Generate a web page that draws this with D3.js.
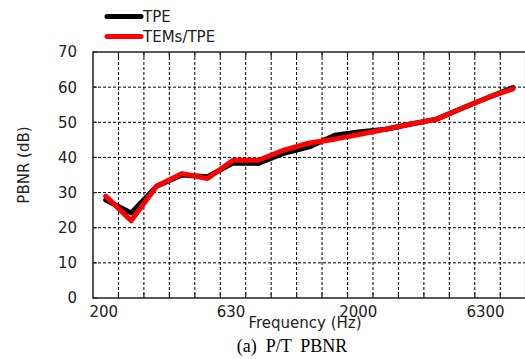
<!DOCTYPE html>
<html><head><meta charset="utf-8">
<script src="https://cdn.jsdelivr.net/npm/d3@7"></script>
<style>body{margin:0;background:#fff}svg{display:block}</style>
</head><body>
<svg id="c" width="525" height="359"></svg>
<script>
const bands = ["200","250","315","400","500","630","800","1000","1250","1600","2000","2500","3150","4000","5000","6300","8000"];
const tickLabels = ["200","630","2000","6300"];
const tpe  = [27.9,24.2,31.8,35.0,34.5,38.4,38.3,41.2,43.0,46.3,47.3,48.0,49.5,50.9,54.0,57.0,59.9];
const tems = [29.0,22.0,31.8,35.4,34.0,39.2,39.2,42.1,44.1,45.2,46.6,48.0,49.5,50.9,54.0,57.0,59.5];
const yTicks = [0,10,20,30,40,50,60,70];
const seriesNames = ["TPE","TEMs/TPE"];
const colors = ["#000000","#ff0000"];

const svg = d3.select("#c");
const L = 93, R = 525.7, T = 52, B = 298;
const x = d3.scaleBand().domain(bands).range([L, R]).padding(0);
const y = d3.scaleLinear().domain([0, 70]).range([B, T]);
const font = "DejaVu Sans, sans-serif";
const fs = 15;

// grid
const edges = bands.map(b => x(b)).slice(1);
svg.append("g").selectAll("line").data(edges).join("line")
  .attr("x1", d => d).attr("x2", d => d).attr("y1", T).attr("y2", B)
  .attr("stroke", "#000").attr("stroke-width", 1).attr("stroke-dasharray", "3,2");
svg.append("g").selectAll("line").data(yTicks.slice(1, -1)).join("line")
  .attr("x1", L).attr("x2", R).attr("y1", d => y(d)).attr("y2", d => y(d))
  .attr("stroke", "#000").attr("stroke-width", 1).attr("stroke-dasharray", "3,2");

// frame
svg.append("rect").attr("x", L).attr("y", T).attr("width", R - L).attr("height", B - T)
  .attr("fill", "none").attr("stroke", "#222").attr("stroke-width", 1.5);

// ticks on x (band edges) bottom and top
svg.append("g").selectAll("line").data(edges).join("line")
  .attr("x1", d => d).attr("x2", d => d).attr("y1", B).attr("y2", B - 5)
  .attr("stroke", "#222").attr("stroke-width", 1.2);
svg.append("g").selectAll("line").data(edges).join("line")
  .attr("x1", d => d).attr("x2", d => d).attr("y1", T).attr("y2", T + 5)
  .attr("stroke", "#222").attr("stroke-width", 1.2);
svg.append("g").selectAll("line").data(yTicks).join("line")
  .attr("x1", L).attr("x2", L + 4).attr("y1", d => y(d)).attr("y2", d => y(d))
  .attr("stroke", "#222").attr("stroke-width", 1.2);

// y tick labels
svg.append("g").selectAll("text").data(yTicks).join("text")
  .attr("x", 77).attr("y", d => y(d)).attr("dy", "0.36em")
  .attr("text-anchor", "end").attr("font-family", font).attr("font-size", fs)
  .attr("fill", "#222").text(d => d);

// x tick labels
svg.append("g").selectAll("text").data(tickLabels).join("text")
  .attr("x", d => x(d) + x.bandwidth() / 2 - 2).attr("y", 317)
  .attr("text-anchor", "middle").attr("font-family", font).attr("font-size", fs)
  .attr("fill", "#222").text(d => d);

// axis titles
svg.append("text").attr("x", 305).attr("y", 328).attr("text-anchor", "middle")
  .attr("font-family", font).attr("font-size", fs).attr("fill", "#222").text("Frequency (Hz)");
svg.append("text").attr("transform", "translate(29,165) rotate(-90)").attr("text-anchor", "middle")
  .attr("font-family", font).attr("font-size", fs).attr("fill", "#222").text("PBNR (dB)");

// caption
svg.append("text").attr("x", 292).attr("y", 352).attr("text-anchor", "middle")
  .style("white-space", "pre")
  .attr("font-family", "Liberation Serif, Times New Roman, serif").attr("font-size", 18)
  .attr("fill", "#000").text("(a)  P/T  PBNR");

// lines
const line = d3.line().x((d, i) => x(bands[i]) + x.bandwidth() / 2).y(d => y(d));
[tpe, tems].forEach((s, k) => {
  svg.append("path").datum(s).attr("d", line).attr("fill", "none")
    .attr("stroke", colors[k]).attr("stroke-width", 5)
    .attr("stroke-linejoin", "round").attr("stroke-linecap", "round");
});

// legend
seriesNames.forEach((n, k) => {
  const ly = 16.5 + k * 20;
  svg.append("line").attr("x1", 107).attr("x2", 141).attr("y1", ly).attr("y2", ly)
    .attr("stroke", colors[k]).attr("stroke-width", 5).attr("stroke-linecap", "round");
  svg.append("text").attr("x", 143).attr("y", ly).attr("dy", "0.36em")
    .attr("font-family", font).attr("font-size", fs).attr("fill", "#222").text(n);
});
</script>
</body></html>
